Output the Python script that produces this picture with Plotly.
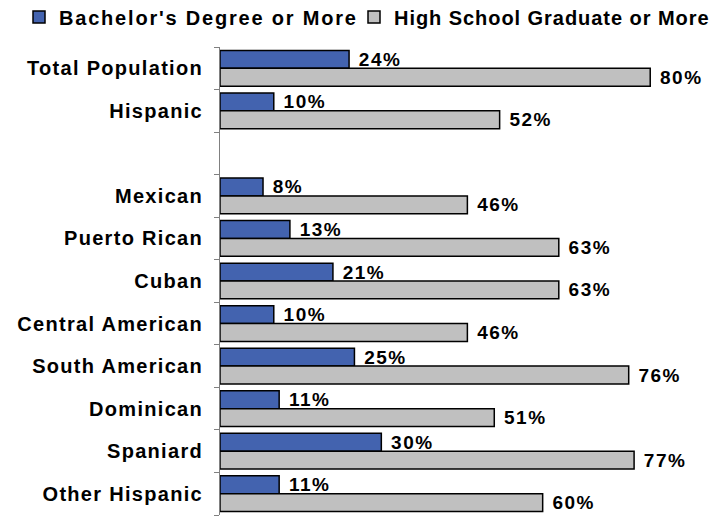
import plotly.graph_objects as go

categories = ["Total Population", "Hispanic", " ", "Mexican", "Puerto Rican", "Cuban",
              "Central American", "South American", "Dominican", "Spaniard", "Other Hispanic"]
bachelors = [24, 10, None, 8, 13, 21, 10, 25, 11, 30, 11]
high_school = [80, 52, None, 46, 63, 63, 46, 76, 51, 77, 60]
series_names = ["Bachelor's Degree or More", "High School Graduate or More"]

FONT = "Liberation Sans, Arial, sans-serif"
BLUE = "#4363AF"
GRAY = "#C0C0C0"


def spaced(s, px):
    """Wrap a label in a span with extra letter spacing."""
    return f'<span style="letter-spacing:{px}px">{s}</span>'


def value_labels(vals):
    return [spaced("&nbsp;" + f"{v}%", 1.5) if v is not None else "" for v in vals]


fig = go.Figure()
for name, vals, color, leg, ls in [(series_names[0], bachelors, BLUE, "legend", 1.8),
                                   (series_names[1], high_school, GRAY, "legend2", 0.95)]:
    fig.add_trace(go.Bar(
        y=categories, x=vals, orientation="h", name=spaced(name, ls), legend=leg,
        showlegend=True,
        marker=dict(color=color, line=dict(color="black", width=1.5)),
        text=value_labels(vals), textposition="outside", cliponaxis=False,
        constraintext="none",
        textfont=dict(family=FONT, size=19, color="black", weight="bold"),
    ))

legend_style = dict(
    orientation="h", xref="container", yref="container",
    y=1 - 17 / 517, xanchor="left", yanchor="middle",
    font=dict(family=FONT, size=20, color="black", weight="bold"),
    itemwidth=30, bgcolor="rgba(0,0,0,0)", visible=True,
)

fig.update_layout(
    width=717, height=517,
    margin=dict(l=220, r=13, t=47, b=2),
    paper_bgcolor="white", plot_bgcolor="white",
    showlegend=True,
    barmode="group", bargap=0.16, bargroupgap=0,
    font=dict(family=FONT, size=20, color="black", weight="bold"),
    legend=dict(x=19 / 717, **legend_style),
    legend2=dict(x=354 / 717, **legend_style),
    xaxis=dict(range=[0, 90], visible=False, fixedrange=True),
    yaxis=dict(
        autorange="reversed", showgrid=False, showline=True, linecolor="#808080", linewidth=1,
        ticks="outside", ticklen=5, tickcolor="#808080", tickson="boundaries",
        ticklabelstandoff=12,
        tickvals=categories,
        ticktext=[spaced(c, 1.3) for c in categories],
        tickfont=dict(family=FONT, size=20, color="black", weight="bold"),
    ),
)

fig.write_html("out.html")
